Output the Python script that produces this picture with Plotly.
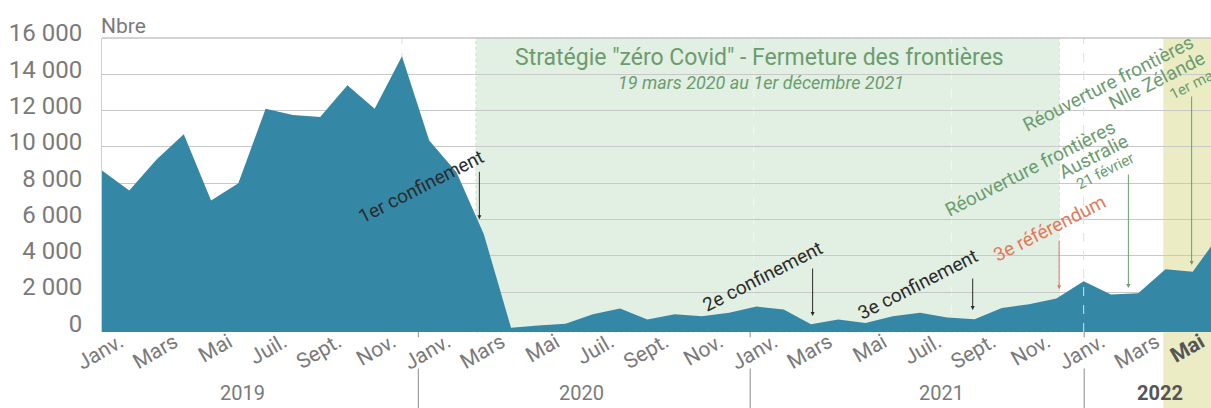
import plotly.graph_objects as go

# ---------------- data ----------------
months = [f"{y}-{m:02d}" for y in (2019, 2020, 2021) for m in range(1, 13)] + \
         ["2022-01", "2022-02", "2022-03", "2022-04", "2022-05", "2022-06"]
arrivals = [
    8700, 7600, 9300, 10700, 7050, 8000, 12100, 11750, 11650, 13400, 12100, 15000,   # 2019
    10350, 8600, 5200, 30, 150, 250, 770, 1090, 480, 770, 660, 860,                 # 2020
    1200, 1030, 230, 480, 290, 660, 860, 590, 500, 1120, 1320, 1640,                # 2021
    2590, 1860, 1930, 3260, 3110, 5200,                                             # 2022
]
month_idx = list(range(len(months)))

tick_labels = ["Janv.", "Mars", "Mai", "Juil.", "Sept.", "Nov."] * 3 + \
              ["Janv.", "Mars", "<b><span style='color:#555'>Mai</span></b>"]
tick_months = list(range(0, 41, 2))
y_tickvals = [0, 2000, 4000, 6000, 8000, 10000, 12000, 14000, 16000]
y_ticktext = ["0", "2 000", "4 000", "6 000", "8 000", "10 000", "12 000", "14 000", "16 000"]
years = ["2019", "2020", "2021", "<b><span style='color:#555'>2022</span></b>"]
year_pos = [5.17, 17.59, 30.79, 38.80]
year_dividers = [11.6, 23.77, 36.02]

Y_MIN, Y_MAX = -204, 16000
X_MAX = 40.67
TICK_OFFSET = 0.65
tick_offsets = [TICK_OFFSET] * (len(tick_months) - 1) + [0.3]

BLUE = "#3587a6"
GREEN_TXT = "#6b9c6f"
ORANGE = "#e2795a"
DARK = "#2b2b2b"
GRAY = "#7a7a7a"
FONT = "Roboto"

fig = go.Figure()
fig.add_trace(go.Scatter(x=month_idx, y=[Y_MIN] * len(month_idx), mode="lines",
                         line=dict(width=0, color=BLUE), hoverinfo="skip", showlegend=False))
fig.add_trace(go.Scatter(x=month_idx, y=arrivals, mode="lines", fill="tonexty",
                         fillcolor=BLUE, line=dict(width=0, color=BLUE), showlegend=False))

shapes = []
shapes.append(dict(type="rect", xref="x", yref="paper", x0=13.71, x1=35.11, y0=0, y1=1,
                   fillcolor="#e2efe3", line=dict(color="#d3e3d4", width=1, dash="dot"), layer="below"))
shapes.append(dict(type="rect", xref="x", yref="paper", x0=38.92, x1=42, y0=-0.3, y1=1,
                   fillcolor="#ebecc4", line=dict(width=0), layer="below"))
for xv, col, lay in [(11.0, "#dddddd", "below"), (23.9, "#f4f8f4", "below"),
                     (31.15, "#f4f8f4", "below"), (36.0, "#dedede", "above")]:
    shapes.append(dict(type="line", xref="x", yref="paper", x0=xv, x1=xv, y0=0, y1=1,
                       line=dict(color=col, width=1, dash="dash"), layer=lay))
shapes.append(dict(type="line", xref="paper", yref="paper", x0=0, x1=1, y0=1, y1=1,
                   line=dict(color="#c4c4c4", width=1.5)))
for xv in year_dividers:
    shapes.append(dict(type="line", xref="x", yref="paper", x0=xv, x1=xv, y0=-0.124, y1=-0.3,
                       line=dict(color="#8a8a8a", width=1)))
    shapes.append(dict(type="line", xref="x", yref="paper", x0=xv, x1=xv, y0=0, y1=-0.018,
                       line=dict(color="#8a8a8a", width=1)))

ann = []
ann.append(dict(text="Nbre", xref="paper", yref="paper", x=0, y=1.04, xanchor="left",
                yanchor="middle", xshift=-3, showarrow=False, font=dict(family=FONT, size=21, color=GRAY)))
ann.append(dict(text='Stratégie "zéro Covid" - Fermeture des frontières', x=24.13, y=14953,
                showarrow=False, font=dict(family=FONT, size=23, color=GREEN_TXT)))
ann.append(dict(text="<i>19 mars 2020 au 1er décembre 2021</i>", x=24.17, y=13575,
                showarrow=False, font=dict(family=FONT, size=18, color=GREEN_TXT)))

ANG = -27
rot_texts = [
    ("1er confinement", 11.70, 7842, 19, DARK),
    ("2e confinement", 24.22, 2854, 19, DARK),
    ("3e confinement", 29.90, 2440, 19, DARK),
    ("3e référendum", 34.73, 5527, 19, ORANGE),
    ("Réouverture frontières", 34.03, 8834, 19, GREEN_TXT),
    ("Australie", 36.35, 9496, 19, GREEN_TXT),
    ("21 février", 36.80, 8669, 15, GREEN_TXT),
    ("Réouverture frontières", 36.90, 13503, 19, GREEN_TXT),
    ("Nlle Zélande", 38.67, 13685, 19, GREEN_TXT),
    ("1er mai", 40.01, 13464, 15, GREEN_TXT),
]
for t, xv, yv, fs, col in rot_texts:
    ann.append(dict(text=t, x=xv, y=yv, textangle=ANG, showarrow=False,
                    font=dict(family=FONT, size=fs, color=col)))

arrows = [
    (13.84, 6007, -49, DARK),
    (26.06, 676, -49, DARK),
    (31.93, 1007, -33, DARK),
    (35.10, 2148, -50, ORANGE),
    (37.64, 2220, -115, GREEN_TXT),
    (39.96, 3487, -170, GREEN_TXT),
]
for xv, yv, ay, col in arrows:
    ann.append(dict(text="", x=xv, y=yv, ax=0, ay=ay, showarrow=True, arrowhead=2,
                    arrowsize=0.8, arrowwidth=1, arrowcolor=col))

for yl, xp in zip(years, year_pos):
    ann.append(dict(text=yl, x=xp, yref="paper", y=-0.2085, yanchor="middle", showarrow=False,
                    font=dict(family=FONT, size=20, color=GRAY)))

fig.update_layout(
    width=1211, height=408,
    margin=dict(l=102, r=0, t=38, b=76, autoexpand=False),
    paper_bgcolor="white", plot_bgcolor="white",
    shapes=shapes, annotations=ann,
    xaxis=dict(range=[0, X_MAX], tickvals=[m + o for m, o in zip(tick_months, tick_offsets)],
               ticktext=tick_labels, tickangle=-30, showgrid=False, zeroline=False,
               automargin=False, ticklabelstandoff=-7, ticklabeloverflow="allow",
               ticks="", tickfont=dict(family=FONT, size=21, color=GRAY)),
    yaxis=dict(range=[Y_MIN, Y_MAX], tickvals=y_tickvals, ticktext=y_ticktext,
               showgrid=True, gridcolor="#c8c8c8", gridwidth=1, zeroline=False,
               showline=True, linecolor="#d0d0d0", linewidth=1, ticks="",
               ticklabelstandoff=14, ticklabelshift=-5, automargin=False,
               tickfont=dict(family=FONT, size=24, color=GRAY)),
    showlegend=False,
)
fig.write_html("out.html", config={"displayModeBar": False},
               post_script="document.body.style.margin='0';document.body.style.overflow='hidden';")
